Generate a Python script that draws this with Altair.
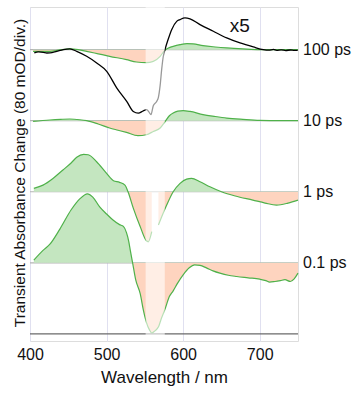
import altair as alt
import pandas as pd

# ---- data (mOD) ----
delays = ["100 ps", "10 ps", "1 ps", "0.1 ps"]
offsets = [320, 240, 160, 80]

wl_100 = [404, 426, 439, 452, 463, 474, 489, 504, 526, 539, 552, 561, 570, 576, 582, 587, 596, 605, 613, 626, 642, 657, 678, 700, 750]
v_100 = [-1.9, -1.9, -0.3, 0.8, 0, -1.9, -4.7, -7.5, -11.3, -13.9, -14.6, -13.2, -7.5, -0.8, 2.3, 3.7, 5.6, 6.8, 6.5, 4.5, 3.0, 1.9, 0.8, 0, 0]

wl_10 = [404, 426, 440, 452, 465, 474, 489, 504, 515, 526, 541, 552, 561, 570, 576, 582, 587, 593, 600, 609, 626, 642, 657, 678, 700, 726, 750]
v_10 = [-0.8, 0.8, 1.5, 1.9, 1.1, 0, -3.7, -8.2, -10.7, -13.2, -16.9, -15.8, -12.1, -8.2, -1.5, 5.6, 8.7, 10.7, 11.3, 10.4, 6.8, 4.7, 3.0, 1.5, 0.3, 0, 0]

wl_1a = [405, 417, 430, 443, 454, 461, 470, 476, 487, 500, 509, 517, 524, 528, 535, 544, 552, 554.5, 559]
v_1a = [3.8, 7.5, 15, 24.5, 32.7, 38.8, 42.1, 41.7, 33.8, 20.7, 12.4, 10.6, 7.5, 0, -18.7, -39.4, -55.2, -56.3, -45]
wl_1b = [567.7, 572, 578.5, 587, 596, 604.6, 611, 622, 635, 650, 668, 691, 707, 722, 737, 750]
v_1b = [-37.5, -28.2, -15, 0, 9.5, 14.3, 15.1, 11.3, 5.6, 0, -4.8, -9.4, -12.7, -15, -12.7, -9.4]

wl_01 = [405, 417, 426, 439, 454, 465, 475, 482, 491, 500, 508, 517, 522, 526, 529, 531, 534, 538, 544, 548, 552, 556, 559, 563, 568, 571, 576, 582, 587, 593, 600, 608, 615, 622, 631, 639, 648, 659, 670, 685, 700, 708, 713, 720, 727, 733, 740, 745, 750]
v_01 = [3, 14, 21, 38, 60, 72, 77.7, 74, 63, 55, 48.5, 43, 41, 34, 24, 14, 0, -19, -35, -53, -67, -75.5, -79, -76.6, -71.8, -64, -53, -38, -31.5, -22.5, -13.5, -5.6, -2.3, -2.8, -6, -9, -11.6, -14, -15.4, -16.9, -18.4, -20, -21.7, -21, -20, -19, -21, -18, -11.6]

# 100 ps trace magnified x5 (black)
wl_x5 = [405.6, 411, 417.4, 422, 426.1, 434.9, 443.5, 452.2, 461, 474, 487.1, 500.2, 513.2, 526.3, 534.9, 541.4, 548, 552.4, 555.4, 558, 561, 565.4, 567.6, 570, 572, 574, 576.3, 580.6, 585, 591.6, 595.9, 602.4, 609, 622, 639.4, 656.9, 674.3, 691.6, 704.7, 712, 718, 722.2, 728, 734, 740, 745, 749.6]
v_x5 = [-3.7, -2.6, -3.0, -3.8, -3.7, -1.9, 0, 0.8, -1.9, -7.5, -15, -24.4, -43, -58.3, -69.6, -71.5, -68.9, -67.6, -70.4, -73.2, -63.1, -58.3, -54, -40, -22, -8, 0, 12, 22.5, 31.8, 33.8, 35.7, 34.6, 28.2, 20.7, 13.2, 7.5, 3.0, 0, -0.6, 0.2, -0.8, -0.3, -1.0, -0.4, -0.9, -0.8]

mask_range = [551, 576]
x_ticks = list(range(400, 751, 50))

GREEN_FILL = "#c4e6c0"
GREEN_LINE = "#4fb14a"
PEACH = "#fed4bf"
FONT = "Liberation Sans"
W, H = 268, 334

X = alt.X("wl:Q", scale=alt.Scale(domain=[400, 750], nice=False, zero=False),
          axis=alt.Axis(values=x_ticks, labelExpr="datum.value % 100 == 0 ? datum.label : ''",
                        grid=True, gridColor="#e0e0f0", gridWidth=1, ticks=False, domain=False,
                        labelFontSize=16, labelFont=FONT, labelColor="#111", labelPadding=5,
                        labelFlush=False,
                        title="Wavelength / nm", titleFontSize=17, titleFont=FONT,
                        titleFontWeight="normal", titleColor="#111", titlePadding=7))
Y = alt.Y("y:Q", scale=alt.Scale(domain=[-8, 368], nice=False, zero=False), axis=None)


def trace(wl, vals, base):
    df = pd.DataFrame({"wl": wl, "y": [base + v for v in vals], "base": base})
    vmax = max(max(vals), 0.0)
    vmin = min(min(vals), 0.0)
    f = vmax / (vmax - vmin)
    grad = alt.Gradient(gradient="linear", x1=0, x2=0, y1=0, y2=1,
                        stops=[alt.GradientStop(color=GREEN_FILL, offset=0),
                               alt.GradientStop(color=GREEN_FILL, offset=f),
                               alt.GradientStop(color=PEACH, offset=f),
                               alt.GradientStop(color=PEACH, offset=1)])
    area = alt.Chart(df).mark_area(interpolate="monotone", color=grad).encode(x=X, y=Y, y2="base:Q")
    line = alt.Chart(df).mark_line(interpolate="monotone", color=GREEN_LINE, strokeWidth=1.2).encode(x=X, y=Y)
    return [area, line]


layers = []
# baselines
base_df = pd.DataFrame({"y": offsets})
layers.append(alt.Chart(base_df).mark_rule(color="#b4b4b4", strokeWidth=1.2).encode(
    x=alt.value(0), x2=alt.value(W), y=Y))
layers.append(alt.Chart(pd.DataFrame({"y": [0]})).mark_rule(color="#6a6a6a", strokeWidth=1.2).encode(
    x=alt.value(0), x2=alt.value(W), y=Y))

layers += trace(wl_100, v_100, offsets[0])
layers += trace(wl_10, v_10, offsets[1])
layers += trace(wl_1a, v_1a, offsets[2])
layers += trace(wl_1b, v_1b, offsets[2])
layers += trace(wl_01, v_01, offsets[3])

# x5 black trace
df_x5 = pd.DataFrame({"wl": wl_x5, "y": [offsets[0] + v for v in v_x5]})
layers.append(alt.Chart(df_x5).mark_line(interpolate="monotone", color="black", strokeWidth=1.3).encode(x=X, y=Y))

# masked (pump scatter) region
layers.append(alt.Chart(pd.DataFrame({"a": [0]})).mark_rect(color="white", opacity=0.6).encode(
    x=alt.datum(mask_range[0]), x2=alt.datum(mask_range[1]), y=alt.value(0), y2=alt.value(H)))

# labels
lab_df = pd.DataFrame({"y": offsets, "label": delays})
layers.append(alt.Chart(lab_df).mark_text(align="left", baseline="middle", fontSize=16, font=FONT, color="#111").encode(
    x=alt.value(W + 5), y=Y, text="label:N"))
layers.append(alt.Chart(pd.DataFrame({"a": [0]})).mark_text(text="x5", align="center", baseline="middle",
                                                           fontSize=19, font=FONT, color="#111").encode(
    x=alt.datum(674), y=alt.datum(347)))
layers.append(alt.Chart(pd.DataFrame({"a": [0]})).mark_text(
    text="Transient Absorbance Change (80 mOD/div.)", angle=270, align="center", baseline="middle",
    fontSize=15.5, font=FONT, color="#111").encode(x=alt.value(-10), y=alt.value(H / 2 - 1)))

chart = alt.layer(*layers).properties(
    width=W, height=H,
    autosize=alt.AutoSizeParams(type="none"),
    padding={"left": 30, "top": 7, "right": 55, "bottom": 53},
).configure_view(stroke="#8a8a8a", strokeWidth=1.5).configure(background="white")

chart.save("out.html", embed_options={"renderer": "svg", "actions": False})
